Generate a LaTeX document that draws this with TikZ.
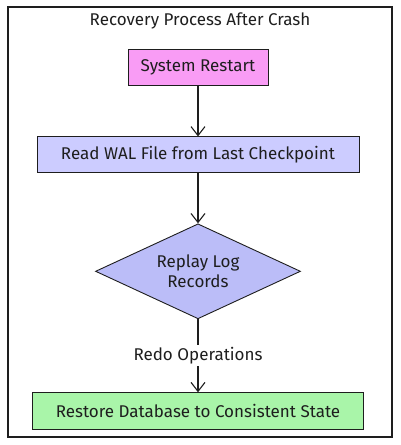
\documentclass[tikz,border=0pt]{standalone}
\usepackage{fontspec}
\setmainfont{Fira Sans}
\usetikzlibrary{positioning, shapes.geometric, arrows.meta}
\definecolor{inkgray}{HTML}{1E1E1E}
\definecolor{restartpink}{HTML}{F99CF5}
\definecolor{walblue}{HTML}{CCCCFF}
\definecolor{replayblue}{HTML}{BBBDF8}
\definecolor{restoregreen}{HTML}{A9F5A9}
\tikzset{
    node distance=50pt, % gap between two stages. Change if necessary.
    every node/.style={font=\fontsize{17}{20}\selectfont, text=inkgray},
    stage/.style={draw=inkgray, line width=0.9pt, minimum height=36pt}, % the boxes
    check/.style={diamond, aspect=2.2, draw=inkgray, line width=0.9pt, align=center,
        minimum width=205pt, minimum height=95pt, inner sep=0pt}, % the decision
    flow/.style={draw=inkgray, line width=1.1pt, -{Straight Barb[length=9pt, width=14pt]}}, % the arrows
}

\begin{document}
\begin{tikzpicture}[x=1pt, y=1pt]
            \useasboundingbox (0,0) rectangle (400,-445);
            \draw[inkgray, line width=1.1pt] (8,-7) rectangle (392,-437);

            \node (TITLE) at (200,-21) {Recovery Process After Crash};
            \node[stage, fill=restartpink, minimum width=140pt] (RESTART) at (198,-67) {System Restart};
            \node[stage, fill=walblue, minimum width=322pt, below=51pt of RESTART] (READWAL) {Read WAL File from Last Checkpoint};
            \node[check, fill=replayblue, below=50pt of READWAL] (REPLAY) {Replay Log\\Records};
            \node[stage, fill=restoregreen, minimum width=331pt, minimum height=37pt, below=73pt of REPLAY] (RESTORE) {Restore Database to Consistent State};

            \path (RESTART) edge[flow] (READWAL)
            (READWAL) edge[flow] (REPLAY)
            (REPLAY) edge[flow] node[fill=white, inner sep=2pt]{Redo Operations} (RESTORE);
\end{tikzpicture}
\end{document}
